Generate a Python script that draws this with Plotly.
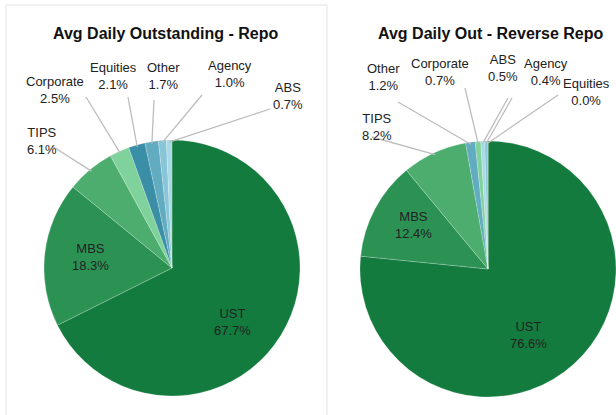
import math
import plotly.graph_objects as go

# ---------------- data ----------------
categories_repo = ["UST", "MBS", "TIPS", "Corporate", "Equities", "Other", "Agency", "ABS"]
values_repo = [67.7, 18.3, 6.1, 2.5, 2.1, 1.7, 1.0, 0.7]

categories_rev = ["UST", "MBS", "TIPS", "Other", "Corporate", "ABS", "Agency", "Equities"]
values_rev = [76.6, 12.4, 8.2, 1.2, 0.7, 0.5, 0.4, 0.0]

title_repo = "Avg Daily Outstanding - Repo"
title_rev = "Avg Daily Out - Reverse Repo"

# ---------------- style ----------------
W, H = 616, 415
FONT = "Liberation Sans Narrow, Arial Narrow, Liberation Sans, Arial, sans-serif"
COLORS = {
    "UST": "#137b3d",
    "MBS": "#2b9254",
    "TIPS": "#4cad6f",
    "Corporate": "#80d29c",
    "Equities": "#3a8ea5",
    "Other": "#62acc2",
    "Agency": "#88c5d6",
    "ABS": "#a9d9e6",
}
R = 128
centers = {"repo": (172, 268), "rev": (488, 269)}

# label placement (pixel coords): label center, leader start
label_pos = {
    "repo": {
        "UST": (233, 322), "MBS": (90, 257),
        "TIPS": (42, 141), "Corporate": (55, 90), "Equities": (113, 76),
        "Other": (163, 76), "Agency": (230, 74), "ABS": (288, 96),
    },
    "rev": {
        "UST": (528, 335), "MBS": (413, 225),
        "TIPS": (377, 127), "Other": (383, 77), "Corporate": (440, 72),
        "ABS": (503, 68), "Agency": (546, 72), "Equities": (586, 92),
    },
}
leader_start = {
    "repo": {
        "TIPS": (52, 146), "Corporate": (86, 97), "Equities": (128, 97),
        "Other": (154, 100), "Agency": (202, 95), "ABS": (270, 109),
    },
    "rev": {
        "TIPS": (372, 137), "Other": (398, 102), "Corporate": (465, 88),
        "ABS": (508, 98), "Agency": (512, 98), "Equities": (558, 95),
    },
}


def px(x):
    return x / W


def py(y):
    return 1 - y / H


fig = go.Figure()
annotations = []
shapes = []

# left panel frame
shapes.append(dict(type="rect", xref="paper", yref="paper",
                   x0=px(6), x1=px(327), y0=py(420), y1=py(5),
                   line=dict(color="#e3e3e3", width=1), fillcolor="rgba(0,0,0,0)"))

for key, cats, vals, title in [("repo", categories_repo, values_repo, title_repo),
                               ("rev", categories_rev, values_rev, title_rev)]:
    cx, cy = centers[key]
    fig.add_trace(go.Pie(
        labels=cats, values=vals, sort=False, direction="clockwise", rotation=0,
        marker=dict(colors=[COLORS[c] for c in cats],
                    line=dict(color="rgba(255,255,255,0.35)", width=0.6)),
        textinfo="none", hoverinfo="label+value", showlegend=False,
        domain=dict(x=[px(cx - R), px(cx + R)], y=[py(cy + R), py(cy - R)]),
    ))
    # title
    annotations.append(dict(x=px(165 if key == "repo" else 490), y=py(33),
                            xref="paper", yref="paper", text="<b>%s</b>" % title,
                            showarrow=False, xanchor="center", yanchor="middle",
                            font=dict(family=FONT, size=16, color="#111111")))
    total = sum(vals)
    cum = 0.0
    for c, v in zip(cats, vals):
        mid = (cum + v / 2) / total
        cum += v
        lx, ly = label_pos[key][c]
        annotations.append(dict(x=px(lx), y=py(ly), xref="paper", yref="paper",
                                text="%s<br>%.1f%%" % (c, v), showarrow=False,
                                xanchor="center", yanchor="middle",
                                font=dict(family=FONT, size=13, color="#222222")))
        if c in leader_start[key]:
            th = 2 * math.pi * mid
            ex = cx + (R - 2) * math.sin(th)
            ey = cy - (R - 2) * math.cos(th)
            sx, sy = leader_start[key][c]
            shapes.append(dict(type="line", xref="paper", yref="paper",
                               x0=px(sx), y0=py(sy), x1=px(ex), y1=py(ey),
                               line=dict(color="#bdbdbd", width=1.3)))

fig.update_layout(
    width=W, height=H, margin=dict(l=0, r=0, t=0, b=0),
    paper_bgcolor="white", plot_bgcolor="white",
    annotations=annotations, shapes=shapes,
    font=dict(family=FONT),
)

fig.write_html("out.html", config={"displayModeBar": False},
               post_script="document.body.style.margin='0';document.body.style.padding='0';")
